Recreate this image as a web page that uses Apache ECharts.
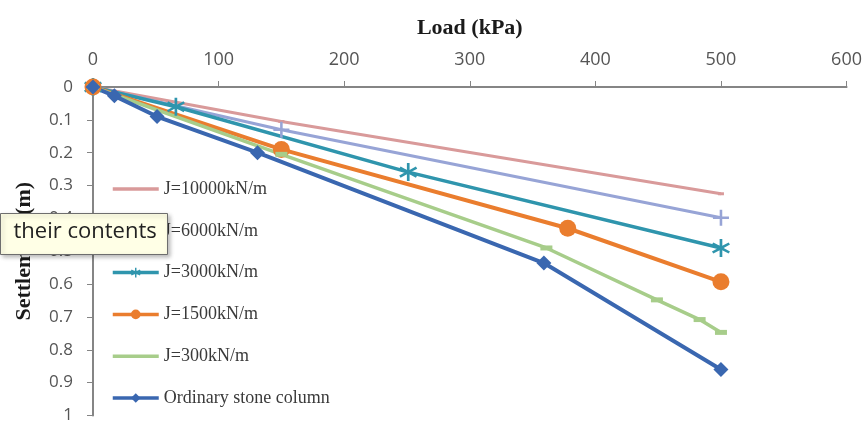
<!DOCTYPE html>
<html>
<head>
<meta charset="utf-8">
<script src="https://cdn.jsdelivr.net/npm/echarts@6/dist/echarts.min.js"></script>
<style>
  html, body { margin: 0; padding: 0; background: #fff; }
  #chart { width: 865px; height: 424px; }
</style>
</head>
<body>
<div id="chart"></div>
<script>
// load (kPa) / settlement (m) pairs
var names = ['J=10000kN/m', 'J=6000kN/m', 'J=3000kN/m', 'J=1500kN/m', 'J=300kN/m', 'Ordinary stone column'];
var j10000 = [[0, 0], [150, 0.105], [500, 0.325]];
var j6000 = [[0, 0], [150, 0.13], [500, 0.398]];
var j3000 = [[0, 0], [66, 0.06], [251, 0.259], [500, 0.49]];
var j1500 = [[0, 0], [150, 0.19], [378, 0.43], [500, 0.593]];
var j300 = [[0, 0], [150, 0.205], [361, 0.49], [449, 0.648], [483, 0.708], [500, 0.747]];
var ordinary = [[0, 0], [17, 0.027], [51, 0.09], [131, 0.2], [359, 0.536], [500, 0.86]];
var xTicks = [0, 100, 200, 300, 400, 500, 600];
var yTicks = [0, 0.1, 0.2, 0.3, 0.4, 0.5, 0.6, 0.7, 0.8, 0.9, 1];

var colors = ['#d99a9a', '#97a4d6', '#2f95ad', '#ea7d2e', '#a7cd8a', '#3a67b0'];
var plusPath = 'path://M4.2,0 L5.8,0 L5.8,4.2 L10,4.2 L10,5.8 L5.8,5.8 L5.8,10 L4.2,10 L4.2,5.8 L0,5.8 L0,4.2 L4.2,4.2 Z';
var starPath = 'path://M4.3,0 L5.7,0 L5.7,3.8 L9,1.9 L9.7,3.1 L6.4,5 L9.7,6.9 L9,8.1 L5.7,6.2 L5.7,10 L4.3,10 L4.3,6.2 L1,8.1 L0.3,6.9 L3.6,5 L0.3,3.1 L1,1.9 L4.3,3.8 Z';
var dashPath = 'path://M0,3 L10,3 L10,7 L0,7 Z';
// plain line legend icon (tiny corner dots keep the bounding box at full height)
var lineIcon = 'path://M0,0 L0.01,0 L0.01,0.01 Z M0,4.2 L46,4.2 L46,7.8 L0,7.8 Z M0,11.99 L0.01,11.99 L0.01,12 Z';

var chart = echarts.init(document.getElementById('chart'));
var option = {
    backgroundColor: '#fff',
    animation: false,
    color: colors,
    grid: { left: 93, right: 18, top: 87, bottom: 5 },
    legend: {
        orient: 'vertical',
        left: 106,
        top: 175,
        itemWidth: 46,
        itemHeight: 12,
        itemGap: 23.8,
        lineStyle: { width: 3.5 },
        textStyle: { fontFamily: 'Liberation Serif', fontSize: 18, color: '#3a3a3a' },
        data: [
            { name: names[0], icon: lineIcon },
            { name: names[1] },
            { name: names[2] },
            { name: names[3] },
            { name: names[4], icon: lineIcon },
            { name: names[5] }
        ]
    },
    xAxis: {
        type: 'value',
        position: 'top',
        min: 0, max: 600, interval: 100,
        name: 'Load (kPa)',
        nameLocation: 'middle',
        nameGap: 48,
        nameTextStyle: { fontFamily: 'Liberation Serif', fontWeight: 'bold', fontSize: 22, color: '#1a1a1a' },
        axisLine: { lineStyle: { color: '#858585', width: 2 } },
        axisTick: { length: 6, lineStyle: { color: '#858585' } },
        axisLabel: {
            margin: 18, fontFamily: 'Open Sans', fontSize: 18, color: '#555',
            formatter: function (v) { return xTicks.indexOf(v) >= 0 ? String(v) : ''; }
        },
        splitLine: { show: false }
    },
    yAxis: {
        type: 'value',
        inverse: true,
        min: 0, max: 1, interval: 0.1,
        name: 'Settlement (m)',
        nameLocation: 'middle',
        nameGap: 58,
        nameTextStyle: { fontFamily: 'Liberation Serif', fontWeight: 'bold', fontSize: 22, color: '#1a1a1a' },
        axisLine: { show: true, lineStyle: { color: '#858585', width: 2 } },
        axisTick: { show: true, length: 6, lineStyle: { color: '#858585' } },
        axisLabel: {
            margin: 20, fontFamily: 'Open Sans', fontSize: 17, color: '#555',
            formatter: function (v) {
                var r = Math.round(v * 10) / 10;
                return yTicks.indexOf(r) >= 0 ? String(r) : '';
            }
        },
        splitLine: { show: false }
    },
    series: [
        { name: names[0], type: 'line', data: j10000, symbol: dashPath, symbolSize: [6, 3], lineStyle: { width: 3 } },
        { name: names[1], type: 'line', data: j6000, symbol: plusPath, symbolSize: 16, lineStyle: { width: 3 } },
        { name: names[2], type: 'line', data: j3000, symbol: starPath, symbolSize: 18, lineStyle: { width: 3.5 } },
        { name: names[3], type: 'line', data: j1500, symbol: 'circle', symbolSize: 17, lineStyle: { width: 4 } },
        { name: names[4], type: 'line', data: j300, symbol: dashPath, symbolSize: [12, 5], lineStyle: { width: 3.5 } },
        { name: names[5], type: 'line', data: ordinary, symbol: 'diamond', symbolSize: 15, lineStyle: { width: 4 } }
    ],
    graphic: [
        {
            type: 'group',
            left: 0,
            top: 213,
            zlevel: 1,
            z: 100,
            children: [
                {
                    type: 'rect',
                    z: 100,
                    shape: { x: 0, y: 0, width: 167, height: 41 },
                    style: { fill: '#ffffe6', stroke: '#6e6e6e', lineWidth: 1, shadowBlur: 4, shadowOffsetX: 2, shadowOffsetY: 2, shadowColor: 'rgba(0,0,0,0.25)' }
                },
                {
                    type: 'text',
                    z: 101,
                    x: 13, y: 7,
                    style: { text: 'their contents', fontFamily: 'Open Sans', fontSize: 22, fill: '#222' }
                }
            ]
        }
    ]
};
chart.setOption(option);
</script>
</body>
</html>
